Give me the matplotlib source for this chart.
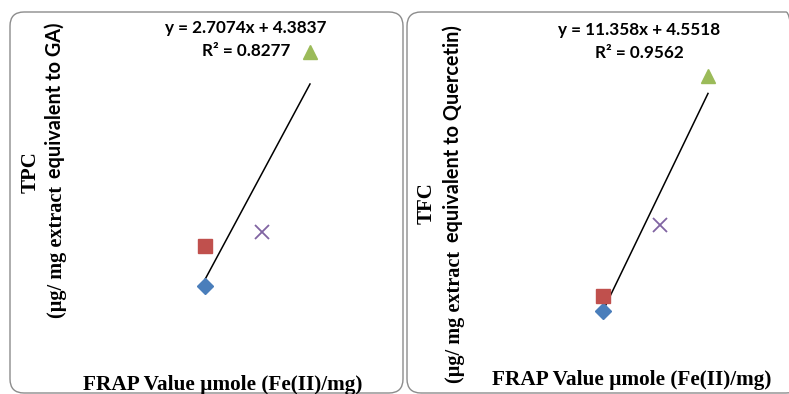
import numpy as np
import matplotlib
matplotlib.use("Agg")
import matplotlib.pyplot as plt
from matplotlib.patches import FancyBboxPatch
from matplotlib.transforms import IdentityTransform

# ---- data ----
samples = ["S1", "S2", "S3", "S4"]
frap = [1.00, 1.00, 2.14, 3.10]          # FRAP value µmole (Fe(II))/mg
tpc = [6.90, 8.06, 8.47, 13.70]          # µg/mg extract equivalent to GA
tfc = [15.89, 17.54, 25.33, 41.67]       # µg/mg extract equivalent to Quercetin
eq_tpc = ["y = 2.7074x + 4.3837", "R² = 0.8277"]
eq_tfc = ["y = 11.358x + 4.5518", "R² = 0.9562"]

markers = ["D", "s", "x", "^"]
colors = ["#4A7EBB", "#C0504D", "#8064A2", "#9BBB59"]
msizes = [8.5, 10.5, 10, 10]

W, H = 789, 394
fig = plt.figure(figsize=(W / 100, H / 100), dpi=100)


def fx(x):
    return x / W


def fy(y):
    return 1 - y / H


# panel borders (pixel units)
for (x0, x1) in [(10, 403), (407, 800)]:
    p = FancyBboxPatch((x0, H - 393), x1 - x0, 393 - 12,
                       boxstyle="round,pad=0,rounding_size=14",
                       transform=IdentityTransform(), fill=False,
                       edgecolor="#8c8c8c", linewidth=1.0, zorder=0)
    fig.patches.append(p)


def panel(ax_px, xlim, ylim, yvals, eq, eqpos, rpos):
    x0, y0, x1, y1 = ax_px
    ax = fig.add_axes([fx(x0), fy(y1), fx(x1) - fx(x0), fy(y0) - fy(y1)])
    ax.set_xlim(*xlim)
    ax.set_ylim(*ylim)
    ax.axis("off")
    for i in range(len(frap)):
        if markers[i] == "x":
            ax.plot(frap[i], yvals[i], marker="x", color=colors[i], ms=msizes[i],
                    mew=1.3, ls="none", zorder=3)
        else:
            ax.plot(frap[i], yvals[i], marker=markers[i], color=colors[i], ms=msizes[i],
                    mec=colors[i], ls="none", zorder=3)
    k, b = np.polyfit(frap, yvals, 1)
    xs = np.array([min(frap), max(frap)])
    ax.plot(xs, k * xs + b, color="black", lw=1.1, zorder=2)
    fig.text(fx(eqpos[0]), fy(eqpos[1]), eq[0], ha="center", va="center",
             fontsize=12.3, fontweight="bold", family="Lato")
    fig.text(fx(rpos[0]), fy(rpos[1]), eq[1], ha="center", va="center",
             fontsize=12.3, fontweight="bold", family="Lato")
    return ax


# panel 1: diamond at px (205,286); 0.02 units/px in x, 0.02908 units/px in y
panel((100, 40, 380, 360), (1.0 - 105 * 0.02, 1.0 + 175 * 0.02),
      (6.90 - 74 * 0.02908, 6.90 + 246 * 0.02908), tpc, eq_tpc,
      (246, 28), (246, 51))
# panel 2: diamond at px (603,311); 0.1097 units/px in y
panel((498, 40, 778, 360), (1.0 - 105 * 0.02, 1.0 + 175 * 0.02),
      (15.89 - 49 * 0.1097, 15.89 + 271 * 0.1097), tfc, eq_tfc,
      (639, 30), (639, 53))

serif = "Liberation Serif"
# axis titles
fig.text(fx(223), fy(385), "FRAP Value µmole (Fe(II)/mg)", ha="center", va="center",
         fontsize=15.3, fontweight="bold", family=serif)
fig.text(fx(632), fy(380), "FRAP Value µmole (Fe(II)/mg)", ha="center", va="center",
         fontsize=15.3, fontweight="bold", family=serif)

# y titles left
fig.text(fx(31), fy(172), "TPC", rotation=90, ha="center", va="center",
         fontsize=15, fontweight="bold", family=serif)
fig.text(fx(57), fy(318), "(µg/ mg extract", rotation=90, ha="center", va="bottom",
         fontsize=14.6, fontweight="bold", family=serif)
fig.text(fx(55), fy(23), "equivalent to GA)", rotation=90, ha="center", va="top",
         fontsize=14.3, fontweight="bold", family="Lato")

# y titles right
fig.text(fx(427), fy(203), "TFC", rotation=90, ha="center", va="center",
         fontsize=15, fontweight="bold", family=serif)
fig.text(fx(455), fy(383), "(µg/ mg extract", rotation=90, ha="center", va="bottom",
         fontsize=14.6, fontweight="bold", family=serif)
fig.text(fx(453), fy(25), "equivalent to Quercetin)", rotation=90, ha="center", va="top",
         fontsize=14.3, fontweight="bold", family="Lato")

fig.savefig("out.png", dpi=100)
